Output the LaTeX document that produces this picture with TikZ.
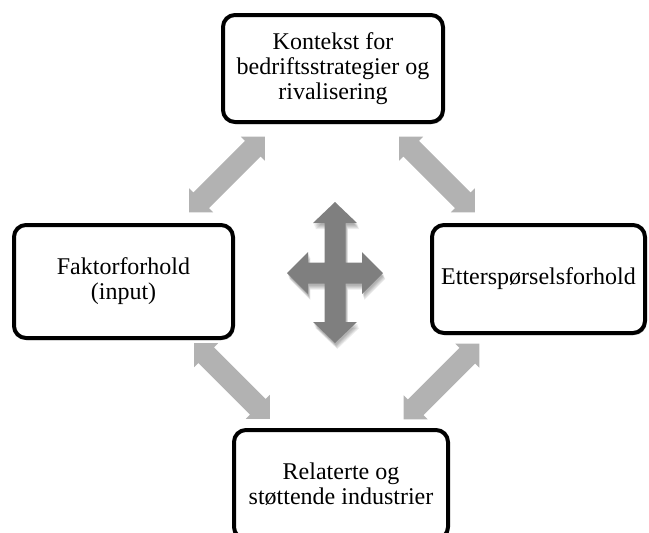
\documentclass[tikz,border=0pt]{standalone}
\usepackage{fontspec}
\setmainfont{Liberation Serif}
\usetikzlibrary{shadows}
\definecolor{linkgray}{HTML}{B2B2B2}
\definecolor{crossgray}{HTML}{7F7F7F}
\tikzset{
  factorbox/.style={draw=black, line width=4pt, rounded corners=12pt, fill=white,
    align=center, inner sep=0pt,
    font=\fontsize{24}{25}\selectfont,
    drop shadow={shadow xshift=1.5pt, shadow yshift=-2pt, opacity=0.35, fill=black}},
  linkarrow/.pic={
    \fill[linkgray] (-53.5,0) -- (-36.5,17) -- (-36.5,11) -- (36.5,11) -- (36.5,17)
      -- (53.5,0) -- (36.5,-17) -- (36.5,-11) -- (-36.5,-11) -- (-36.5,-17) -- cycle;
  },
  crossshape/.pic={
    \fill[pic actions]
      (0,-71) -- (22,-50) -- (10.5,-50) -- (10.5,-10.5) -- (27,-10.5) -- (27,-21)
      -- (48,0) -- (27,21) -- (27,10.5) -- (10.5,10.5) -- (10.5,49) -- (22,49)
      -- (0,70) -- (-22,49) -- (-10.5,49) -- (-10.5,10.5) -- (-27,10.5) -- (-27,21)
      -- (-48,0) -- (-27,-21) -- (-27,-10.5) -- (-10.5,-10.5) -- (-10.5,-50) -- (-22,-50)
      -- cycle;
  }
}
\begin{document}
\begin{tikzpicture}[x=1pt, y=-1pt]
\useasboundingbox (0,0) rectangle (649,533);
\clip (0,0) rectangle (649,533);

% the four factors
\node[factorbox, minimum width=220pt, minimum height=107pt] (ctx) at (333,68.5)
  {Kontekst for\\bedriftsstrategier og\\rivalisering};
\node[factorbox, minimum width=219pt, minimum height=113pt] (fac) at (123.5,281.5)
  {Faktorforhold\\(input)};
\node[factorbox, minimum width=213pt, minimum height=108pt] (dem) at (538.5,279)
  {Etterspørselsforhold};
\node[factorbox, minimum width=214pt, minimum height=109pt] (rel) at (341,484.5)
  {Relaterte og\\støttende industrier};

% two-way links between neighbouring factors
\pic[rotate=45]  at (227,174.5) {linkarrow};
\pic[rotate=-45] at (437,174.5) {linkarrow};
\pic[rotate=-45] at (232,381)   {linkarrow};
\pic[rotate=45]  at (441.5,381.5) {linkarrow};

% central four-way arrow with a soft shadow underneath
\foreach \d in {2,3,4,5,6}
  \pic[black, opacity=0.07] at (335+0.4*\d,273+\d) {crossshape};
\pic[crossgray] at (335,273) {crossshape};
\end{tikzpicture}
\end{document}
